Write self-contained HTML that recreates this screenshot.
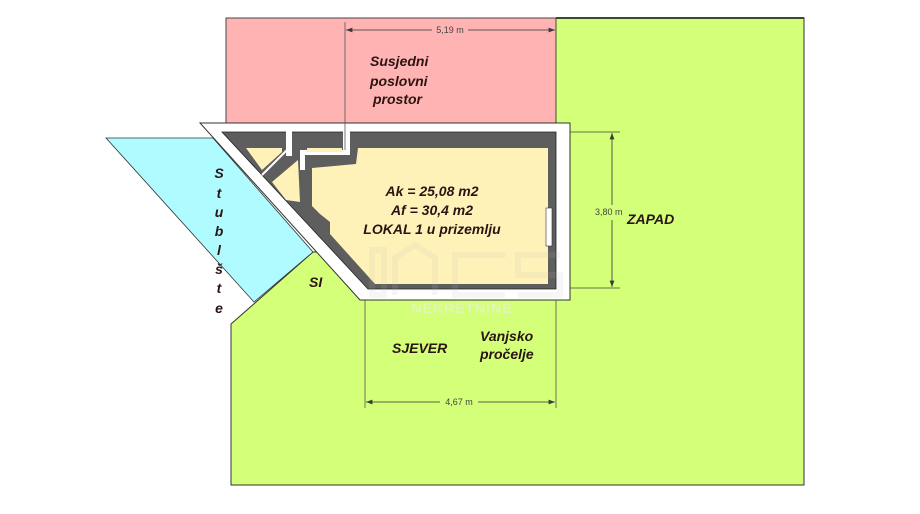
<!DOCTYPE html>
<html><head><meta charset="utf-8"><style>
html,body{margin:0;padding:0;background:#fff;}
svg{display:block;}
text{font-family:"Liberation Sans",sans-serif;}
.lbl{font-style:italic;font-weight:bold;font-size:14px;fill:#2a1414;}
.dim{font-size:9px;fill:#444;}
</style></head><body>
<svg width="920" height="514" viewBox="0 0 920 514" xmlns="http://www.w3.org/2000/svg">
<defs>
<marker id="ar" markerWidth="8" markerHeight="6" refX="8" refY="3" orient="auto"><path d="M0,0 L8,3 L0,6 z" fill="#3a3a3a"/></marker>
<marker id="al" markerWidth="8" markerHeight="6" refX="0" refY="3" orient="auto"><path d="M8,0 L0,3 L8,6 z" fill="#3a3a3a"/></marker>
</defs>
<polygon points="556,18 804,18 804,485 231,485 231,324 313,252 556,252" fill="#d4ff78" stroke="#333" stroke-width="1"/>
<line x1="556" y1="18" x2="804" y2="18" stroke="#3a4a2a" stroke-width="2"/>
<rect x="226" y="18" width="330" height="105" fill="#ffb3b3" stroke="#444" stroke-width="1"/>
<polygon points="106,138 213,138 313,252 254,302" fill="#b0fbff" stroke="#333" stroke-width="0.8"/>
<polygon points="200,123 570,123 570,300 360,300" fill="#fff" stroke="#333" stroke-width="1"/>
<polygon points="222,132 556,132 556,289 368,289" fill="#5e5e5e" stroke="#222" stroke-width="0.8"/>
<rect x="286" y="130" width="6" height="26" fill="#fff"/>
<polygon points="343,125 350,125 350,155 305,155 305,170 300,170 300,150 343,150" fill="#fff"/>
<polygon points="358,148 548,148 548,284 375,284 330,234 330,222 320,214 312,206 312,168 356,164" fill="#fff2b8"/>
<polygon points="246,148 282,148 282,152 262,170" fill="#fff2b8"/>
<polygon points="307,148 342,148 342,152 307,152" fill="#fff2b8"/>
<polygon points="272,182 298,160 300,202 286,200" fill="#fff2b8"/>
<line x1="262" y1="175" x2="287" y2="150" stroke="#fff" stroke-width="2"/>
<rect x="546" y="208" width="6" height="38" fill="#fff" stroke="#333" stroke-width="0.6"/>
<g opacity="0.12" fill="none" stroke="#bbb" stroke-width="6">
<rect x="372" y="250" width="12" height="45"/>
<path d="M395,295 V258 L415,245 L435,258 V295"/>
<path d="M505,255 H455 V295 H505"/>
<path d="M560,255 H518 V275 H560 V295 H518"/>
</g>
<text x="462" y="313" font-size="14" font-weight="bold" fill="#eeeeee" text-anchor="middle" opacity="0.5" letter-spacing="1">NEKRETNINE</text>
<line x1="345" y1="22" x2="345" y2="150" stroke="#555" stroke-width="0.8"/>
<line x1="346" y1="30" x2="432" y2="30" stroke="#333" stroke-width="0.8" marker-start="url(#al)"/>
<line x1="468" y1="30" x2="555" y2="30" stroke="#333" stroke-width="0.8" marker-end="url(#ar)"/>
<text x="450" y="33" class="dim" text-anchor="middle">5,19 m</text>
<line x1="570" y1="132" x2="620" y2="132" stroke="#444" stroke-width="0.8"/>
<line x1="570" y1="288" x2="620" y2="288" stroke="#444" stroke-width="0.8"/>
<line x1="612" y1="133" x2="612" y2="205" stroke="#333" stroke-width="0.8" marker-start="url(#al)"/>
<line x1="612" y1="220" x2="612" y2="287" stroke="#333" stroke-width="0.8" marker-end="url(#ar)"/>
<text x="595" y="215" class="dim">3,80 m</text>
<line x1="365" y1="300" x2="365" y2="408" stroke="#555" stroke-width="0.8"/>
<line x1="556" y1="300" x2="556" y2="408" stroke="#555" stroke-width="0.8"/>
<line x1="366" y1="402" x2="440" y2="402" stroke="#333" stroke-width="0.8" marker-start="url(#al)"/>
<line x1="478" y1="402" x2="555" y2="402" stroke="#333" stroke-width="0.8" marker-end="url(#ar)"/>
<text x="459" y="405" class="dim" text-anchor="middle">4,67 m</text>
<text x="370" y="66" class="lbl">Susjedni</text>
<text x="370" y="86" class="lbl">poslovni</text>
<text x="373" y="104" class="lbl">prostor</text>
<text x="432" y="196" class="lbl" text-anchor="middle">Ak = 25,08 m2</text>
<text x="432" y="215" class="lbl" text-anchor="middle">Af = 30,4 m2</text>
<text x="432" y="234" class="lbl" text-anchor="middle" font-weight="normal">LOKAL 1 u prizemlju</text>
<text x="627" y="224" class="lbl">ZAPAD</text>
<text x="392" y="353" class="lbl">SJEVER</text>
<text x="480" y="341" class="lbl">Vanjsko</text>
<text x="480" y="359" class="lbl">pročelje</text>
<text x="309" y="287" class="lbl">SI</text>
<g text-anchor="middle">
<text x="219" y="178" class="lbl">S</text>
<text x="219" y="198" class="lbl">t</text>
<text x="219" y="217" class="lbl">u</text>
<text x="219" y="236" class="lbl">b</text>
<text x="219" y="255" class="lbl">l</text>
<text x="219" y="274" class="lbl">š</text>
<text x="219" y="293" class="lbl">t</text>
<text x="219" y="313" class="lbl">e</text>
</g>
</svg>
</body></html>
